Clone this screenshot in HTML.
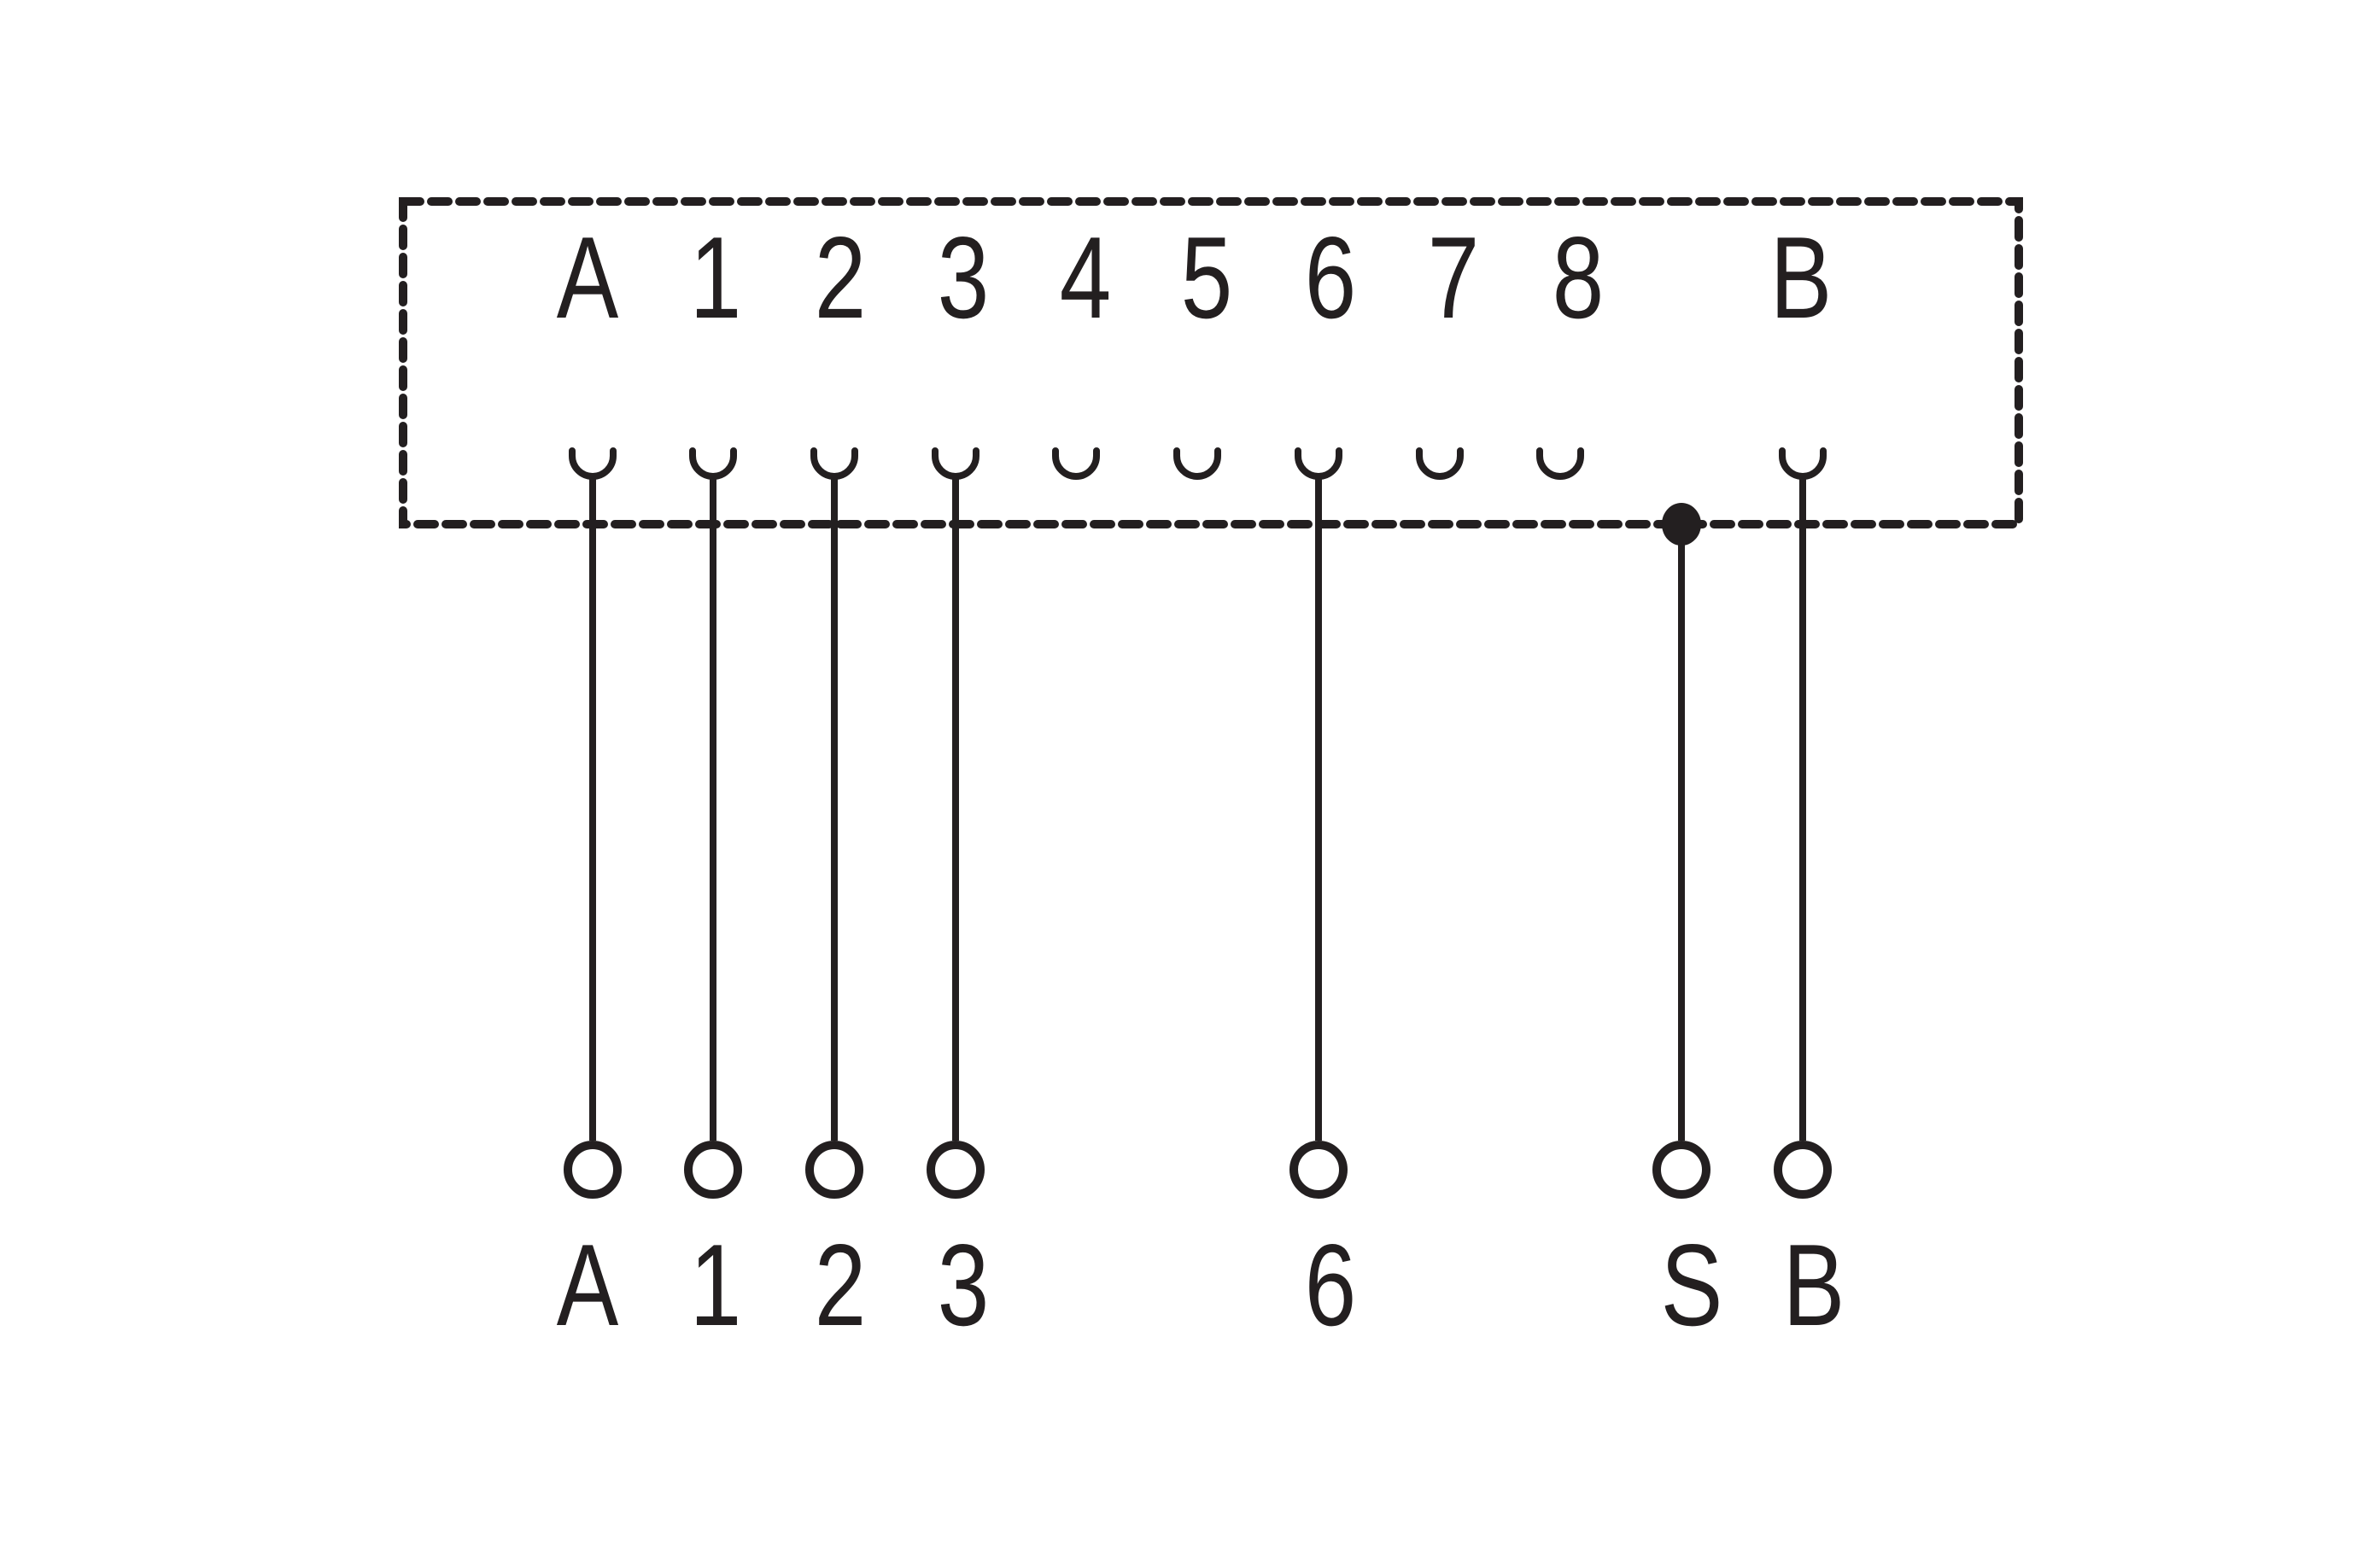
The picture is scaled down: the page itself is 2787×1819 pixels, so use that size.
<!DOCTYPE html>
<html><head><style>html,body{margin:0;padding:0;background:#fff}svg{display:block}</style></head>
<body>
<svg width="2787" height="1819" viewBox="0 0 2787 1819" xmlns="http://www.w3.org/2000/svg">
<g fill="none" stroke="#231f20" stroke-linecap="round">
  <rect x="472" y="236" width="1892" height="378" stroke-width="10" stroke-dasharray="20 13"/>
</g>
<g font-family="Liberation Sans, sans-serif" font-size="136" fill="#231f20" text-anchor="middle">
  <text transform="translate(688,372) scale(0.8,1)">A</text>
  <text transform="translate(838,372) scale(0.8,1)">1</text>
  <text transform="translate(984,372) scale(0.8,1)">2</text>
  <text transform="translate(1128,372) scale(0.8,1)">3</text>
  <text transform="translate(1271,372) scale(0.8,1)">4</text>
  <text transform="translate(1413,372) scale(0.8,1)">5</text>
  <text transform="translate(1558,372) scale(0.8,1)">6</text>
  <text transform="translate(1702,372) scale(0.8,1)">7</text>
  <text transform="translate(1848,372) scale(0.8,1)">8</text>
  <text transform="translate(2109,372) scale(0.8,1)">B</text>
  <text transform="translate(688,1552) scale(0.8,1)">A</text>
  <text transform="translate(838,1552) scale(0.8,1)">1</text>
  <text transform="translate(984,1552) scale(0.8,1)">2</text>
  <text transform="translate(1128,1552) scale(0.8,1)">3</text>
  <text transform="translate(1558,1552) scale(0.8,1)">6</text>
  <text transform="translate(1981,1552) scale(0.8,1)">S</text>
  <text transform="translate(2124,1552) scale(0.8,1)">B</text>
</g>
<g fill="none" stroke="#231f20" stroke-width="8" stroke-linecap="round">
  <path d="M670 528 v6 a24 24 0 0 0 48 0 v-6"/>
  <path d="M811 528 v6 a24 24 0 0 0 48 0 v-6"/>
  <path d="M953 528 v6 a24 24 0 0 0 48 0 v-6"/>
  <path d="M1095 528 v6 a24 24 0 0 0 48 0 v-6"/>
  <path d="M1236 528 v6 a24 24 0 0 0 48 0 v-6"/>
  <path d="M1378 528 v6 a24 24 0 0 0 48 0 v-6"/>
  <path d="M1520 528 v6 a24 24 0 0 0 48 0 v-6"/>
  <path d="M1662 528 v6 a24 24 0 0 0 48 0 v-6"/>
  <path d="M1803 528 v6 a24 24 0 0 0 48 0 v-6"/>
  <path d="M2087 528 v6 a24 24 0 0 0 48 0 v-6"/>
</g>
<g fill="none" stroke="#231f20" stroke-width="8">
  <line x1="694" y1="558" x2="694" y2="1336"/>
  <line x1="835" y1="558" x2="835" y2="1336"/>
  <line x1="977" y1="558" x2="977" y2="1336"/>
  <line x1="1119" y1="558" x2="1119" y2="1336"/>
  <line x1="1544" y1="558" x2="1544" y2="1336"/>
  <line x1="1969" y1="614" x2="1969" y2="1336"/>
  <line x1="2111" y1="558" x2="2111" y2="1336"/>
</g>
<g fill="none" stroke="#231f20" stroke-width="10">
  <circle cx="694" cy="1370" r="29"/>
  <circle cx="835" cy="1370" r="29"/>
  <circle cx="977" cy="1370" r="29"/>
  <circle cx="1119" cy="1370" r="29"/>
  <circle cx="1544" cy="1370" r="29"/>
  <circle cx="1969" cy="1370" r="29"/>
  <circle cx="2111" cy="1370" r="29"/>
</g>
<ellipse cx="1969" cy="614" rx="23" ry="25" fill="#231f20"/>
</svg>
</body></html>
